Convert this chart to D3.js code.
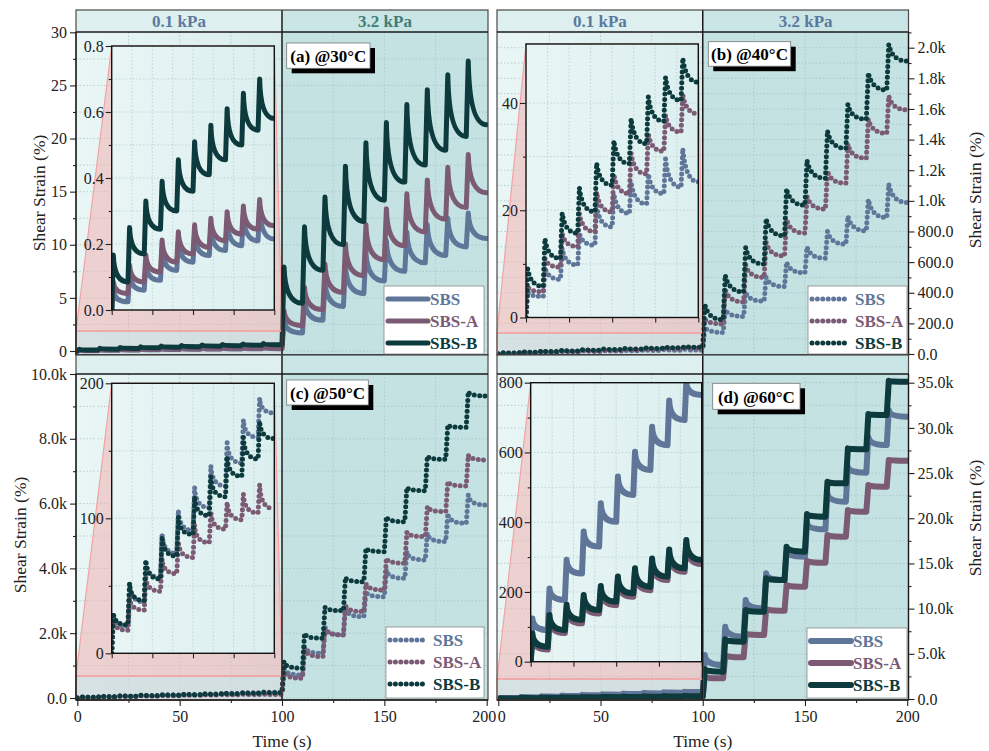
<!DOCTYPE html>
<html><head><meta charset="utf-8">
<script src="https://cdn.jsdelivr.net/npm/d3@7/dist/d3.min.js"></script>
<style>
body{margin:0;background:#fff;}
svg{display:block;}
text{font-family:"Liberation Serif","Times New Roman",serif;}
</style>
</head><body>
<svg id="chart" width="989" height="751"></svg>
<script>
// ---------------- DATA ----------------
const series = ["SBS", "SBS-A", "SBS-B"];
const seriesColors = ["#5f7699", "#7b5a74", "#0d3a3c"];
const stages = ["0.1 kPa", "3.2 kPa"];
const panelTitles = ["(a) @30°C", "(b) @40°C", "(c) @50°C", "(d) @60°C"];
const timeTicks = [0, 50, 100, 150, 200];
const timeMinorTicks = [25, 75, 125, 175];
const insetTimeTicks = [0, 25, 50, 75, 100];

// cycle peaks (t = 1, 11, ... 191 s) and end-of-cycle values (t = 10, 20, ... 200 s)
// cycles 1-10: 0.1 kPa, cycles 11-20: 3.2 kPa
// 30 °C (%)
const peak30_SBS  = [0.06, 0.11, 0.14, 0.185, 0.21, 0.23, 0.25, 0.27, 0.29, 0.31,   2.9, 4.8, 6.6, 8.1, 9.4, 10.4, 11.2, 11.9, 12.5, 13.0];
const end30_SBS   = [0.025, 0.06, 0.09, 0.12, 0.145, 0.165, 0.18, 0.195, 0.21, 0.215, 1.7, 2.9, 4.2, 5.4, 6.6, 7.5, 8.3, 9.0, 9.8, 10.6];
const peak30_SBSA = [0.086, 0.136, 0.167, 0.212, 0.237, 0.258, 0.278, 0.298, 0.315, 0.335, 3.8, 6.0, 8.2, 10.1, 11.9, 13.4, 14.8, 16.1, 17.3, 18.5];
const end30_SBSA  = [0.05, 0.085, 0.115, 0.145, 0.17, 0.19, 0.21, 0.23, 0.245, 0.255, 2.4, 3.9, 5.5, 7.1, 8.6, 9.9, 11.2, 12.4, 13.5, 14.9];
const peak30_SBSB = [0.167, 0.25, 0.33, 0.39, 0.455, 0.51, 0.56, 0.61, 0.657, 0.70, 7.9, 11.7, 14.5, 17.4, 19.6, 21.5, 23.2, 24.6, 26.0, 27.3];
const end30_SBSB  = [0.085, 0.17, 0.245, 0.30, 0.36, 0.41, 0.455, 0.50, 0.545, 0.58, 4.5, 7.6, 10.0, 12.2, 14.2, 15.9, 17.5, 18.9, 20.2, 21.3];
// 40 °C (%)
const peak40_SBS  = [4.8, 9.4, 12.9, 15.7, 20.9, 23.1, 25.3, 26.8, 29.6, 31.5,   174, 290, 400, 500, 600, 700, 800, 900, 1010, 1110];
const end40_SBS   = [3.9, 7.1, 9.8, 13.5, 16.9, 19.4, 21.2, 23.1, 24.3, 25.3,   141, 245, 345, 440, 530, 625, 717, 804, 891, 989];
const peak40_SBSA = [5.7, 11.0, 15.7, 19.4, 23.4, 26.8, 30.6, 34.3, 37.7, 41.6,  228, 420, 580, 730, 880, 1030, 1196, 1370, 1533, 1685];
const end40_SBSA  = [4.8, 9.4, 13.2, 16.0, 19.7, 23.1, 26.8, 31.0, 34.6, 38.0,   196, 340, 500, 640, 790, 946, 1115, 1278, 1441, 1594];
const peak40_SBSB = [9.1, 14.7, 19.5, 24.2, 28.8, 33.0, 37.1, 41.2, 44.8, 48.4,  326, 515, 696, 885, 1080, 1265, 1457, 1630, 1837, 2022];
const end40_SBSB  = [5.8, 11.0, 15.7, 19.7, 24.7, 28.7, 32.4, 36.6, 40.5, 43.9,  224, 406, 587, 772, 972, 1148, 1343, 1533, 1724, 1913];
// 50 °C (%)
const peak50_SBS  = [29, 51, 69, 89, 106, 123, 139, 156, 173, 189,   916, 1585, 2202, 2768, 3283, 3951, 4517, 5083, 5701, 6267];
const end50_SBS   = [20, 38, 56, 74, 91, 108, 124, 141, 160, 178,    710, 1379, 1945, 2511, 3128, 3694, 4260, 4826, 5392, 5958];
const peak50_SBSA = [25, 41, 56, 70, 83, 95, 105, 112, 118, 125,     813, 1533, 2150, 2871, 3540, 4312, 5114, 5906, 6678, 7501];
const end50_SBSA  = [17, 32, 46, 59, 71, 82, 92, 99, 104, 107,       607, 1276, 1945, 2665, 3334, 4157, 4980, 5752, 6544, 7347];
const peak50_SBSB = [30, 52, 69, 87, 101, 116, 131, 146, 160, 172,   1121, 1996, 2799, 3725, 4620, 5598, 6503, 7470, 8427, 9456];
const end50_SBSB  = [21, 39, 55, 72, 88, 102, 116, 131, 144, 159,    916, 1842, 2696, 3591, 4517, 5443, 6400, 7367, 8355, 9322];
// 60 °C (%)
const peak60_SBS  = [124, 210, 292, 373, 454, 531, 602, 674, 749, 800,  4868, 8003, 10953, 13904, 16301, 19509, 22755, 25705, 29026, 31975];
const end60_SBS   = [91, 177, 253, 330, 401, 478, 550, 621, 693, 765,   3762, 6897, 10031, 13166, 15748, 18772, 21833, 25041, 28103, 31237];
const peak60_SBSA = [72, 124, 153, 181, 207, 234, 258, 286, 312, 339,   2471, 4868, 7265, 9957, 12613, 15305, 18145, 20911, 23677, 26443];
const end60_SBSA  = [35, 82, 110, 138, 162, 186, 205, 234, 258, 280,    2287, 4610, 7081, 9773, 12429, 15084, 17960, 20726, 23492, 26369];
const peak60_SBSB = [81, 134, 163, 191, 217, 244, 268, 296, 322, 349,   3282, 6601, 9847, 13350, 16854, 20468, 24045, 27733, 31532, 35220];
const end60_SBSB  = [43, 91, 120, 148, 172, 196, 215, 244, 268, 292,    3024, 6343, 9662, 13166, 16301, 20173, 23861, 27623, 31421, 35110];

// axis ticks
const yTicks30 = [0, 5, 10, 15, 20, 25, 30];
const yTicks40 = [0, 200, 400, 600, 800, 1000, 1200, 1400, 1600, 1800, 2000];
const yTicks50 = [0, 2000, 4000, 6000, 8000, 10000];
const yTicks60 = [0, 5000, 10000, 15000, 20000, 25000, 30000, 35000];
const insetTicks30 = [0, 0.2, 0.4, 0.6, 0.8];
const insetTicks40 = [0, 20, 40];
const insetTicks50 = [0, 100, 200];
const insetTicks60 = [0, 200, 400, 600, 800];

// ---------------- CHART ----------------
const FONT = "'Liberation Serif','Times New Roman',serif";
const svg = d3.select("#chart").attr("font-family", FONT);
const defs = svg.append("defs");
const gl = defs.append("linearGradient").attr("id", "gLeft").attr("x1", 0).attr("x2", 1).attr("y1", 0).attr("y2", 0);
gl.append("stop").attr("offset", "0%").attr("stop-color", "#eaf6f6");
gl.append("stop").attr("offset", "100%").attr("stop-color", "#d8ecec");
const gi = defs.append("linearGradient").attr("id", "gInset").attr("x1", 0).attr("x2", 1).attr("y1", 0).attr("y2", 0);
gi.append("stop").attr("offset", "0%").attr("stop-color", "#e8f5f5");
gi.append("stop").attr("offset", "100%").attr("stop-color", "#dcefef");

function CreepCurve(context, k) { this._context = context; this._k = k; }
CreepCurve.prototype = {
  areaStart() {}, areaEnd() {},
  lineStart() { this._prev = null; },
  lineEnd() {},
  point(x, y) {
    x = +x; y = +y;
    if (!this._prev) this._context.moveTo(x, y);
    else if (y > this._prev[1] + 0.3) {
      const [x0] = this._prev;
      this._context.quadraticCurveTo(x0 + (x - x0) * this._k, y, x, y);
    } else this._context.lineTo(x, y);
    this._prev = [x, y];
  }
};
const creepCurve = k => ctx => new CreepCurve(ctx, k);

function cyclePoints(peaks, ends, n) {
  const pts = [[0, 0]];
  for (let k = 0; k < n; k++) {
    pts.push([10 * k + 1, peaks[k]]);
    pts.push([10 * k + 10, ends[k]]);
  }
  return pts;
}

const fmtK = v => (Math.abs(v) >= 1000 ? (v / 1000).toFixed(1) + "k" : v.toFixed(1));
const minorBetween = (ticks) => { const r = []; for (let i = 0; i < ticks.length - 1; i++) r.push((ticks[i] + ticks[i + 1]) / 2); return r; };

const panels = [
  { key: "a", L: 76, R: 488, head: 10, top: 32, bottom: 355, yDom: [-0.377, 30.03], yTicks: yTicks30, yFmt: d3.format("d"), side: "left",
    peaks: [peak30_SBS, peak30_SBSA, peak30_SBSB], ends: [end30_SBS, end30_SBSA, end30_SBSB], style: "line", sw: 5, k: 0.06,
    inset: { x0: 111.7, x1: 274.3, yTop: 46, yBot: 310, dom: [0, 0.8], ticks: insetTicks30, fmt: d3.format(".1f") }, zoomTop: 1.88,
    headColors: ["#5b79a0", "#3f7d78"], headText: true, xLabels: false, titleY: 193,
    box: [286.7, 43, 83.3, 25.3], legend: [384, 286, 100, 68] },
  { key: "b", L: 497, R: 908.5, head: 10, top: 32, bottom: 355, yDom: [-6.5, 2102.5], yTicks: yTicks40, yFmt: v => v === 0 ? "0.0" : fmtK(v), side: "right",
    peaks: [peak40_SBS, peak40_SBSA, peak40_SBSB], ends: [end40_SBS, end40_SBSA, end40_SBSB], style: "dot", sw: 5, k: 0.18,
    inset: { x0: 526, x1: 698.3, yTop: 44, yBot: 317.5, dom: [0, 51], ticks: insetTicks40, fmt: d3.format("d") }, zoomTop: 137,
    headColors: ["#5b79a0", "#5b79a0"], headText: true, xLabels: false, titleY: 190,
    box: [708.3, 41.7, 82.4, 24.5], legend: [808, 286, 99, 68] },
  { key: "c", L: 76, R: 488, head: 355, top: 374, bottom: 700, yDom: [-62, 10000], yTicks: yTicks50, yFmt: v => v === 0 ? "0.0" : fmtK(v), side: "left",
    peaks: [peak50_SBS, peak50_SBSA, peak50_SBSB], ends: [end50_SBS, end50_SBSA, end50_SBSB], style: "dot", sw: 5, k: 0.05,
    inset: { x0: 111.7, x1: 274.3, yTop: 383.3, yBot: 653.3, dom: [0, 200], ticks: insetTicks50, fmt: d3.format("d") }, zoomTop: 679,
    headColors: null, headText: false, xLabels: true, titleY: 535,
    box: [286.7, 380, 81.6, 25], legend: [386, 627, 98, 71] },
  { key: "d", L: 497, R: 908.5, head: 355, top: 374, bottom: 700, yDom: [-111, 35963], yTicks: yTicks60, yFmt: v => v === 0 ? "0.0" : fmtK(v), side: "right",
    peaks: [peak60_SBS, peak60_SBSA, peak60_SBSB], ends: [end60_SBS, end60_SBSA, end60_SBSB], style: "line", sw: 6, k: 0.03,
    inset: { x0: 530.7, x1: 701.7, yTop: 382.7, yBot: 661.7, dom: [0, 800], ticks: insetTicks60, fmt: d3.format("d") }, zoomTop: 2213,
    headColors: null, headText: false, xLabels: true, titleY: 518,
    box: [712.7, 383.3, 87.3, 26], legend: [807, 628, 100, 70] }
];

function styleSeries(sel, p, i) {
  sel.attr("fill", "none").attr("stroke", seriesColors[i]).attr("stroke-width", p.sw)
    .attr("stroke-linejoin", "round").attr("stroke-linecap", "round");
  if (p.style === "dot") sel.attr("stroke-dasharray", "0 5.4");
}

function styleAxis(g, size) {
  g.attr("font-family", FONT);
  g.select(".domain").remove();
  g.selectAll("line").attr("stroke", "#222").attr("stroke-width", 1.1);
  g.selectAll("text").attr("font-size", size).attr("fill", "#222").attr("font-family", FONT);
}

panels.forEach((p, pi) => {
  const g = svg.append("g");
  const x = d3.scaleLinear().domain([-0.64, 200.64]).range([p.L, p.R]);
  const y = d3.scaleLinear().domain(p.yDom).range([p.bottom, p.top]);
  const xm = x(100);

  // header band
  g.append("rect").attr("x", p.L).attr("y", p.head).attr("width", xm - p.L).attr("height", p.top - p.head).attr("fill", "#ddefef");
  g.append("rect").attr("x", xm).attr("y", p.head).attr("width", p.R - xm).attr("height", p.top - p.head).attr("fill", "#c9e5e5");
  if (p.headText) {
    stages.forEach((s, si) => {
      const cx = si === 0 ? (p.L + xm) / 2 : (xm + p.R) / 2;
      g.append("text").attr("x", cx).attr("y", p.head + 17).attr("text-anchor", "middle")
        .attr("font-size", 17).attr("font-weight", "bold").attr("fill", p.headColors[si]).text(s);
    });
  }
  // plot backgrounds
  g.append("rect").attr("x", p.L).attr("y", p.top).attr("width", xm - p.L).attr("height", p.bottom - p.top).attr("fill", "url(#gLeft)");
  g.append("rect").attr("x", xm).attr("y", p.top).attr("width", p.R - xm).attr("height", p.bottom - p.top).attr("fill", "#c4e2e2");

  // grid
  const grid = g.append("g").attr("stroke", "#a9c2c4").attr("stroke-width", 0.8).attr("stroke-dasharray", "1.5 2");
  [25, 50, 75, 125, 150, 175].forEach(t => grid.append("line").attr("x1", x(t)).attr("x2", x(t)).attr("y1", p.top).attr("y2", p.bottom));
  p.yTicks.concat(minorBetween(p.yTicks)).forEach(v => {
    if (y(v) > p.top + 1 && y(v) < p.bottom - 1)
      grid.append("line").attr("x1", p.L).attr("x2", p.R).attr("y1", y(v)).attr("y2", y(v));
  });

  // zoom rectangle
  const zr = { x0: p.L, x1: xm, y0: y(p.zoomTop), y1: p.bottom };
  g.append("rect").attr("x", zr.x0).attr("y", zr.y0).attr("width", zr.x1 - zr.x0).attr("height", zr.y1 - zr.y0)
    .attr("fill", "#cfd9dc").attr("opacity", 0.75);

  // main series
  const clipId = "clip" + p.key;
  defs.append("clipPath").attr("id", clipId).append("rect").attr("x", p.L).attr("y", p.top).attr("width", p.R - p.L).attr("height", p.bottom - p.top);
  const mainG = g.append("g").attr("clip-path", `url(#${clipId})`);
  const line = d3.line().x(d => x(d[0])).y(d => y(d[1])).curve(creepCurve(p.k));
  series.forEach((s, i) => {
    mainG.append("path").datum(cyclePoints(p.peaks[i], p.ends[i], 20)).attr("d", line).call(styleSeries, p, i);
  });

  // zoom connector (pink)
  const ins = p.inset;
  g.append("path").attr("d", `M${zr.x0},${zr.y0}L${ins.x0},${ins.yTop}L${ins.x1},${ins.yTop}L${zr.x1},${zr.y0}Z`)
    .attr("fill", "#f0b3b3").attr("fill-opacity", 0.55).attr("stroke", "#f2a3a3").attr("stroke-width", 1.2);
  g.append("rect").attr("x", zr.x0).attr("y", zr.y0).attr("width", zr.x1 - zr.x0).attr("height", zr.y1 - zr.y0)
    .attr("fill", "none").attr("stroke", "#f2a3a3").attr("stroke-width", 1.5);

  // inset
  const ix = d3.scaleLinear().domain([0, 100]).range([ins.x0, ins.x1]);
  const iy = d3.scaleLinear().domain(ins.dom).range([ins.yBot, ins.yTop]);
  g.append("rect").attr("x", ins.x0).attr("y", ins.yTop).attr("width", ins.x1 - ins.x0).attr("height", ins.yBot - ins.yTop).attr("fill", "url(#gInset)");
  const ig = g.append("g").attr("stroke", "#b3c7c9").attr("stroke-width", 0.7).attr("stroke-dasharray", "1.5 2");
  d3.range(12.5, 100, 12.5).forEach(t => ig.append("line").attr("x1", ix(t)).attr("x2", ix(t)).attr("y1", ins.yTop).attr("y2", ins.yBot));
  const iMinor = minorBetween(ins.ticks);
  ins.ticks.concat(iMinor).forEach(v => {
    if (iy(v) > ins.yTop + 1 && iy(v) < ins.yBot - 1) ig.append("line").attr("x1", ins.x0).attr("x2", ins.x1).attr("y1", iy(v)).attr("y2", iy(v));
  });
  const iclip = "iclip" + p.key;
  defs.append("clipPath").attr("id", iclip).append("rect").attr("x", ins.x0).attr("y", ins.yTop).attr("width", ins.x1 - ins.x0).attr("height", ins.yBot - ins.yTop);
  const insG = g.append("g").attr("clip-path", `url(#${iclip})`);
  const iline = d3.line().x(d => ix(d[0])).y(d => iy(d[1])).curve(creepCurve(p.k));
  series.forEach((s, i) => {
    insG.append("path").datum(cyclePoints(p.peaks[i], p.ends[i], 10)).attr("d", iline).call(styleSeries, p, i);
  });
  g.append("rect").attr("x", ins.x0).attr("y", ins.yTop).attr("width", ins.x1 - ins.x0).attr("height", ins.yBot - ins.yTop)
    .attr("fill", "none").attr("stroke", "#111").attr("stroke-width", 1.4);
  const iaxL = g.append("g").attr("transform", `translate(${ins.x0},0)`)
    .call(d3.axisLeft(iy).tickValues(ins.ticks).tickFormat(ins.fmt).tickSizeInner(6).tickSizeOuter(0).tickPadding(2));
  styleAxis(iaxL, 16);
  const iaxLm = g.append("g").attr("transform", `translate(${ins.x0},0)`)
    .call(d3.axisLeft(iy).tickValues(iMinor).tickFormat("").tickSizeInner(3).tickSizeOuter(0));
  styleAxis(iaxLm, 16);
  const iaxB = g.append("g").attr("transform", `translate(0,${ins.yBot})`)
    .call(d3.axisBottom(ix).tickValues(insetTimeTicks).tickFormat("").tickSizeInner(5).tickSizeOuter(0));
  styleAxis(iaxB, 16);

  // frames
  g.append("line").attr("x1", xm).attr("x2", xm).attr("y1", p.head).attr("y2", p.bottom).attr("stroke", "#1a1a1a").attr("stroke-width", 1.5);
  g.append("rect").attr("x", p.L).attr("y", p.head).attr("width", p.R - p.L).attr("height", p.bottom - p.head)
    .attr("fill", "none").attr("stroke", "#4a4a4a").attr("stroke-width", 1.2);
  g.append("line").attr("x1", p.L).attr("x2", p.R).attr("y1", p.top).attr("y2", p.top).attr("stroke", "#1a1a1a").attr("stroke-width", 1.5);
  g.append("line").attr("x1", p.L).attr("x2", p.R).attr("y1", p.bottom).attr("y2", p.bottom).attr("stroke", "#1a1a1a").attr("stroke-width", 1.3);

  // main y axis
  const yMinor = minorBetween(p.yTicks).concat([p.yTicks[p.yTicks.length - 1] + (p.yTicks[1] - p.yTicks[0]) / 2]).filter(v => v <= p.yDom[1]);
  const axFn = p.side === "left" ? d3.axisLeft : d3.axisRight;
  const axX = p.side === "left" ? p.L : p.R;
  const ya = g.append("g").attr("transform", `translate(${axX},0)`)
    .call(axFn(y).tickValues(p.yTicks).tickFormat(p.yFmt).tickSizeInner(6).tickSizeOuter(0).tickPadding(3));
  styleAxis(ya, 16);
  const yam = g.append("g").attr("transform", `translate(${axX},0)`)
    .call(axFn(y).tickValues(yMinor).tickFormat("").tickSizeInner(3).tickSizeOuter(0));
  styleAxis(yam, 16);
  g.append("line").attr("x1", axX).attr("x2", axX).attr("y1", p.top).attr("y2", p.bottom).attr("stroke", "#1a1a1a").attr("stroke-width", 1.3);

  // main x axis
  const xa = g.append("g").attr("transform", `translate(0,${p.bottom})`)
    .call(d3.axisBottom(x).tickValues(timeTicks).tickFormat(p.xLabels ? d3.format("d") : "").tickSizeInner(6).tickSizeOuter(0).tickPadding(5));
  styleAxis(xa, 16);
  if (p.xLabels) {
    // nudge the shared corner labels ("200" of the left panel, "0" of the right panel) apart
    xa.selectAll(".tick text").attr("dx", d => (p.side === "left" && d === 200) ? -3 : (p.side === "right" && d === 0) ? 3 : 0);
  }
  const xam = g.append("g").attr("transform", `translate(0,${p.bottom})`)
    .call(d3.axisBottom(x).tickValues(timeMinorTicks).tickFormat("").tickSizeInner(3).tickSizeOuter(0));
  styleAxis(xam, 16);
  if (p.xLabels) {
    g.append("text").attr("x", xm).attr("y", p.bottom + 47).attr("text-anchor", "middle").attr("font-size", 17.5).attr("fill", "#222").text("Time (s)");
  }
  // y title
  const tx = p.side === "left" ? (pi === 0 ? 39 : 20) : 975;
  g.append("text").attr("transform", `translate(${tx},${p.titleY}) rotate(-90)`).attr("text-anchor", "middle")
    .attr("dominant-baseline", "central").attr("font-size", 17.5).attr("fill", "#222").text("Shear Strain (%)");

  // panel label box
  const [bx, by, bw, bh] = p.box;
  g.append("rect").attr("x", bx + 5).attr("y", by + 5).attr("width", bw).attr("height", bh).attr("fill", "#000");
  g.append("rect").attr("x", bx).attr("y", by).attr("width", bw).attr("height", bh).attr("fill", "#fff").attr("stroke", "#777").attr("stroke-width", 0.8);
  g.append("text").attr("x", bx + bw / 2).attr("y", by + bh / 2 + 1).attr("text-anchor", "middle").attr("dominant-baseline", "central")
    .attr("font-size", 17).attr("font-weight", "bold").attr("fill", "#000").text(panelTitles[pi]);

  // legend
  const [lx, ly, lw, lh] = p.legend;
  g.append("rect").attr("x", lx).attr("y", ly).attr("width", lw).attr("height", lh).attr("fill", "#fff").attr("stroke", "#888").attr("stroke-width", 0.8);
  series.forEach((s, i) => {
    const cy = ly + 13 + i * 22;
    const sample = g.append("line").attr("x1", lx + 4).attr("x2", p.style === "dot" ? lx + 40 : lx + 44).attr("y1", cy).attr("y2", cy);
    styleSeries(sample, p, i);
    g.append("text").attr("x", lx + (p.style === "dot" ? 47 : 46)).attr("y", cy).attr("dominant-baseline", "central")
      .attr("font-size", 17).attr("font-weight", "bold").attr("fill", seriesColors[i]).text(s);
  });
});
</script>
</body></html>
